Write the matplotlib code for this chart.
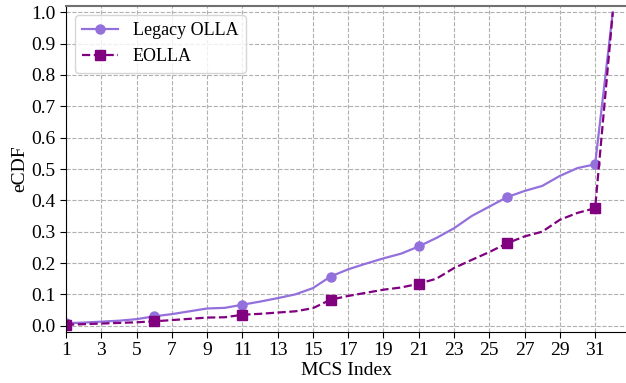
import numpy as np
import matplotlib.pyplot as plt

plt.rcParams['font.family'] = ['Liberation Serif', 'DejaVu Serif']

# MCS index and eCDF values
mcs = np.arange(1, 33)
legacy_olla = [0.008, 0.010, 0.013, 0.016, 0.021, 0.030, 0.037, 0.046, 0.055, 0.057,
               0.067, 0.077, 0.088, 0.100, 0.120, 0.157, 0.180, 0.198, 0.215, 0.230,
               0.253, 0.280, 0.311, 0.350, 0.380, 0.410, 0.430, 0.446, 0.478, 0.503,
               0.515, 1.000]
eolla = [0.003, 0.005, 0.007, 0.009, 0.011, 0.014, 0.018, 0.022, 0.026, 0.027,
         0.035, 0.038, 0.042, 0.046, 0.056, 0.083, 0.095, 0.105, 0.115, 0.122,
         0.134, 0.150, 0.184, 0.210, 0.235, 0.263, 0.285, 0.300, 0.338, 0.360,
         0.375, 1.000]
xticks = list(range(1, 32, 2))
yticks = np.round(np.arange(0, 1.01, 0.1), 1)

fig = plt.figure(figsize=(6.26, 3.83), dpi=100)
ax = fig.add_axes([66 / 626, 51 / 383, 560 / 626, 326 / 383])

ax.plot(mcs, legacy_olla, color='mediumpurple', linestyle='-', linewidth=1.6,
        marker='o', markersize=6.5, markevery=5, label='Legacy OLLA')
ax.plot(mcs, eolla, color='purple', linestyle='--', linewidth=1.6,
        marker='s', markersize=6.5, markevery=5, label='EOLLA')

ax.set_xlim(1, 32.75)
ax.set_ylim(-0.02, 1.02)
ax.set_xticks(xticks)
ax.set_yticks(yticks)
ax.tick_params(labelsize=14, length=4)
ax.set_xlabel('MCS Index', fontsize=14, labelpad=2)
ax.set_ylabel('eCDF', fontsize=14, labelpad=2)
ax.grid(True, linestyle='--', color='#b0b0b0', linewidth=0.8)
ax.spines['right'].set_visible(False)
ax.spines['top'].set_color('#707070')
ax.spines['top'].set_linewidth(1.5)

ax.legend(loc='upper left', fontsize=13, frameon=True)

fig.savefig('out.png', dpi=100)
